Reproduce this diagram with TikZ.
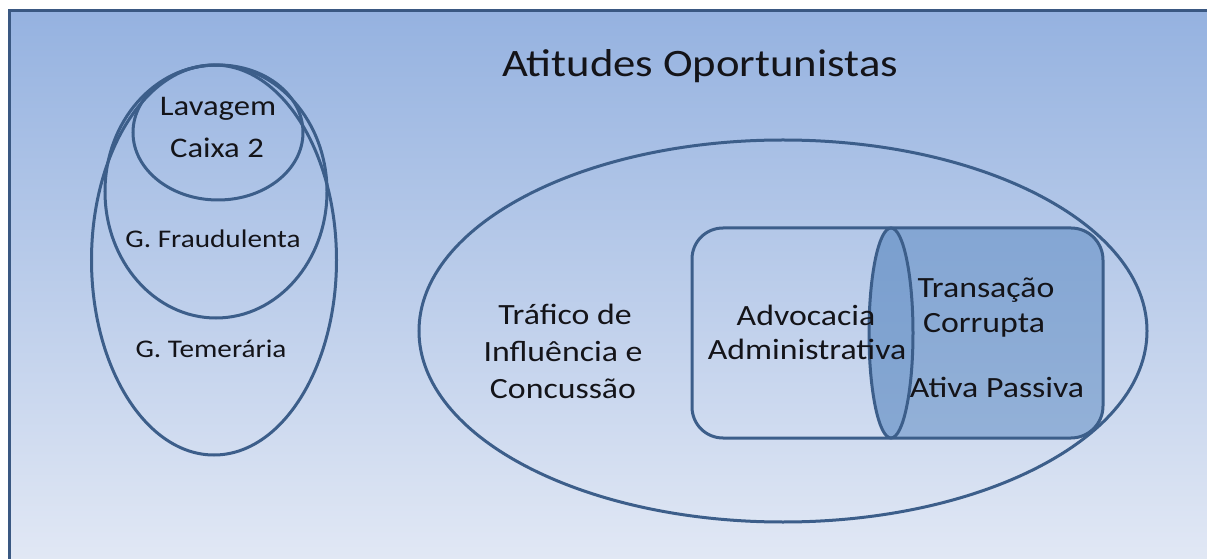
\documentclass[tikz,border=0pt]{standalone}
\usepackage{fontspec}
\setmainfont{Carlito}[FakeStretch=1.15]
\usetikzlibrary{shapes.geometric}
\definecolor{lineblue}{RGB}{60,94,138}
\definecolor{framec}{RGB}{58,88,130}
\definecolor{bgtop}{RGB}{149,178,224}
\definecolor{bgbot}{RGB}{227,233,245}
\definecolor{fillblue}{RGB}{79,129,189}
\definecolor{txt}{RGB}{20,20,25}
\tikzset{
  ell/.style={draw=lineblue, line width=3bp, ellipse, inner sep=0pt, outer sep=0pt},
  outl/.style={draw=lineblue, line width=3bp},
  lbl/.style={anchor=base, inner sep=0pt, text=txt},
  lsmall/.style={lbl, font=\fontsize{25.5}{30}\selectfont},
  lmid/.style={lbl, font=\fontsize{28.5}{34}\selectfont},
  lbig/.style={lbl, font=\fontsize{29.5}{35}\selectfont},
  ltitle/.style={lbl, font=\fontsize{39}{44}\selectfont}
}
\begin{document}
\begin{tikzpicture}[x=1bp,y=-1bp]
\useasboundingbox (0,0) rectangle (1207,559);
\fill[white] (-5,-5) rectangle (1215,565);
\shade[top color=bgtop, bottom color=bgbot] (8,10) rectangle (1220,572);
\draw[framec, line width=3bp] (9,575) -- (9,11) -- (1225,11);

% title
\node[ltitle] (title) at (700,77) {Atitudes Oportunistas};

% left group of ellipses
\node[ell, minimum width=245bp, minimum height=390bp] (teme) at (214,260) {};
\node[ell, minimum width=222bp, minimum height=253bp] (frau) at (216,191.5) {};
\node[ell, minimum width=170bp, minimum height=135bp] (lava) at (218,132.5) {};
\node[lmid] (tlav) at (218,116) {Lavagem};
\node[lmid] (tcai) at (217,158) {Caixa 2};
\node[lsmall] (tfra) at (213,248) {G. Fraudulenta};
\node[lsmall] (ttem) at (211,358) {G. Temerária};

% big ellipse
\node[ell, minimum width=728bp, minimum height=382bp] (big) at (783,331) {};
\node[lbig] (tr1) at (565,325) {Tráfico de};
\node[lbig] (tr2) at (563,361.5) {Influência e};
\node[lbig] (tr3) at (563,398) {Concussão};

% Transacao shape fill
\fill[fillblue, fill opacity=0.47]
  (891,228) -- (1071,228) arc[start angle=-90,end angle=0,radius=32]
  -- (1103,406) arc[start angle=0,end angle=90,radius=32]
  -- (891,438) arc[start angle=90,end angle=270,x radius=22,y radius=105] -- cycle;
% overlap lens
\fill[fillblue, fill opacity=0.18]
  (891,228) arc[start angle=-90,end angle=90,x radius=22,y radius=105]
  arc[start angle=90,end angle=270,x radius=22,y radius=105] -- cycle;
% Advocacia outline
\draw[outl]
  (891,228) -- (723,228) arc[start angle=-90,end angle=-180,radius=31]
  -- (692,407) arc[start angle=180,end angle=90,radius=31]
  -- (891,438) arc[start angle=90,end angle=-90,x radius=22,y radius=105] -- cycle;
% Transacao outline
\draw[outl]
  (891,228) -- (1071,228) arc[start angle=-90,end angle=0,radius=32]
  -- (1103,406) arc[start angle=0,end angle=90,radius=32]
  -- (891,438) arc[start angle=90,end angle=270,x radius=22,y radius=105] -- cycle;

\node[lbig] (ad1) at (806,326) {Advocacia};
\node[lbig] (ad2) at (807,360) {Administrativa};
\node[lbig] (tc1) at (986,298) {Transação};
\node[lbig] (tc2) at (984,333) {Corrupta};
\node[lbig] (tc3) at (997,397) {Ativa Passiva};
\end{tikzpicture}
\end{document}
